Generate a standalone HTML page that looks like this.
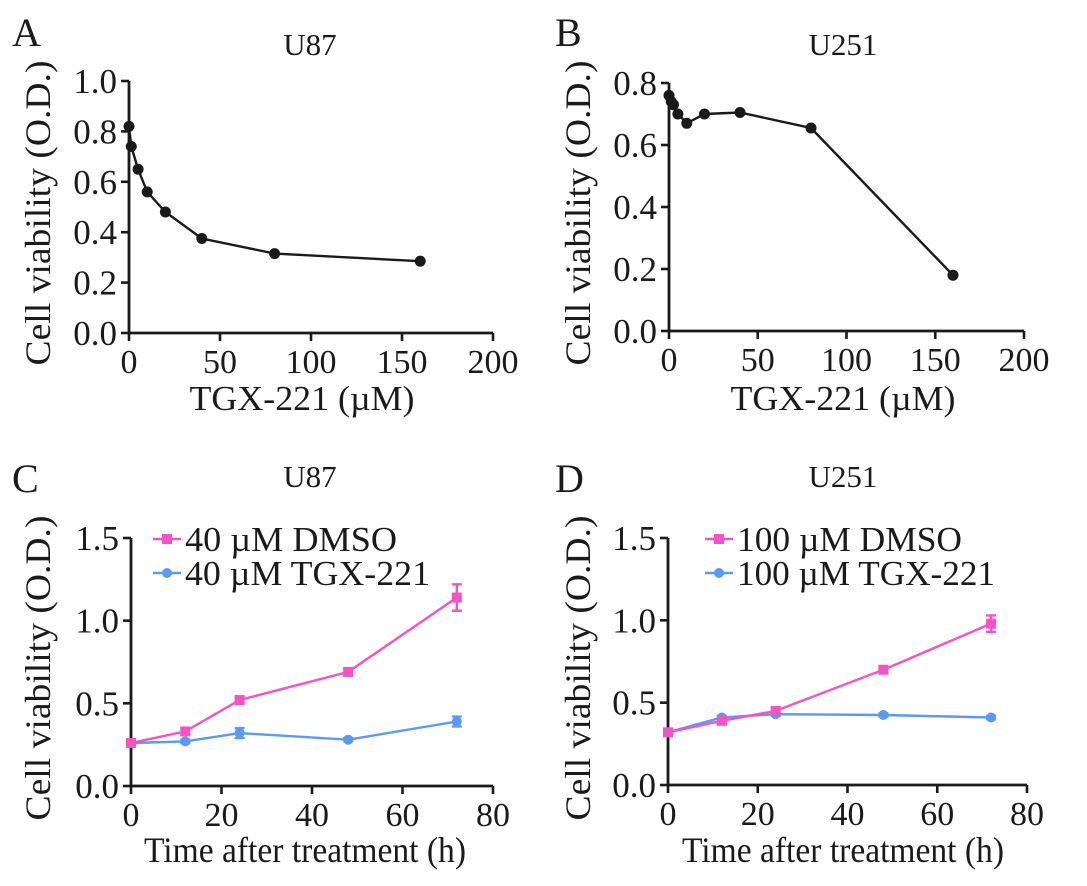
<!DOCTYPE html>
<html><head><meta charset="utf-8"><style>
body{margin:0;background:#fff}
svg text{font-family:"Liberation Serif",serif;fill:#1a1a1a}
</style></head><body>
<svg id="fig" width="1087" height="881" viewBox="0 0 1087 881" xmlns="http://www.w3.org/2000/svg"></svg>
<script>
// Panel A data
const aDose = [0, 1.25, 5, 10, 20, 40, 80, 160];
const aVal = [0.82, 0.74, 0.65, 0.56, 0.48, 0.375, 0.315, 0.285];
// Panel B data
const bDose = [0, 1.25, 2.5, 5, 10, 20, 40, 80, 160];
const bVal = [0.76, 0.74, 0.73, 0.70, 0.67, 0.70, 0.705, 0.655, 0.18];
// Panel C data
const cTime = [0, 12, 24, 48, 72];
const cDmso = [0.26, 0.33, 0.52, 0.69, 1.14];
const cDmsoErr = [0.01, 0.02, 0.02, 0.02, 0.08];
const cTgx = [0.26, 0.27, 0.32, 0.28, 0.39];
const cTgxErr = [0.01, 0.01, 0.03, 0.01, 0.03];
// Panel D data
const dTime = [0, 12, 24, 48, 72];
const dDmso = [0.32, 0.39, 0.45, 0.70, 0.98];
const dDmsoErr = [0.01, 0.02, 0.02, 0.02, 0.05];
const dTgx = [0.32, 0.41, 0.43, 0.425, 0.41];
const dTgxErr = [0.01, 0.01, 0.01, 0.01, 0.01];
// Tick labels
const abXTicks = [0, 50, 100, 150, 200];
const aYTicks = ["0.0", "0.2", "0.4", "0.6", "0.8", "1.0"];
const bYTicks = ["0.0", "0.2", "0.4", "0.6", "0.8"];
const cdXTicks = [0, 20, 40, 60, 80];
const cdYTicks = ["0.0", "0.5", "1.0", "1.5"];

const NS = "http://www.w3.org/2000/svg";
const svg = document.getElementById("fig");
function mk(tag, attrs, parent, text) {
  const e = document.createElementNS(NS, tag);
  for (const k in attrs) e.setAttribute(k, attrs[k]);
  if (text !== undefined) e.textContent = text;
  (parent || svg).appendChild(e);
  return e;
}
const PINK = "#f552c6", BLUE = "#5a9af5";

function panel(o) {
  const g = mk("g", {});
  
  
  const sx = v => o.x0 + (v - o.xmin) / (o.xmax - o.xmin) * (o.x1 - o.x0);
  const sy = v => o.y0 - (v - o.ymin) / (o.ymax - o.ymin) * (o.y0 - o.y1);
  const lt = mk("text", {x: o.lx, y: o.ly, "font-size": 40}, g, o.letter);
  
  
  const tt = mk("text", {x: o.tx, y: o.ty, "font-size": 31, "text-anchor": "middle"}, g, o.title);
  
  
  const ax = mk("path", {d: `M${o.x0},${o.y1} V${o.y0} H${o.x1}`, stroke: "#1a1a1a", "stroke-width": 2.8, fill: "none"}, g);
  
  
  o.xticks.forEach(t => {
    const x = sx(t);
    mk("line", {x1: x, x2: x, y1: o.y0, y2: o.y0 + 8, stroke: "#1a1a1a", "stroke-width": 2.6}, g);
    const l = mk("text", {x: x, y: o.y0 + 40, "font-size": 34, "text-anchor": "middle"}, g, String(t));
    
    
  });
  o.yticks.forEach(t => {
    const y = sy(parseFloat(t));
    mk("line", {x1: o.x0 - 8, x2: o.x0, y1: y, y2: y, stroke: "#1a1a1a", "stroke-width": 2.6}, g);
    const l = mk("text", {x: o.x0 - 12, y: y + 12, "font-size": 35, "text-anchor": "end"}, g, t);
    
    
  });
  const xt = mk("text", {x: o.xtx, y: o.xty, "font-size": o.xtfs, "text-anchor": "middle", textLength: o.xtlen, lengthAdjust: "spacingAndGlyphs", "font-weight": o.xtbold ? "bold" : "normal"}, g, o.xtitle);
  
  
  const yc = o.ytc;
  const yt = mk("text", {x: 0, y: 0, "font-size": 36, "text-anchor": "middle", textLength: 305, lengthAdjust: "spacingAndGlyphs", transform: `translate(${o.ytx},${yc}) rotate(-90)`}, g, "Cell viability (O.D.)");
  
  
  o.series.forEach(s => {
    const sg = mk("g", {}, g);
    
    
    const pts = s.xs.map((x, i) => sx(x).toFixed(1) + "," + sy(s.ys[i]).toFixed(1)).join(" ");
    const pl = mk("polyline", {points: pts, fill: "none", stroke: s.color, "stroke-width": 2.4}, sg);
    
    
    s.xs.forEach((x, i) => {
      const cx = sx(x), cy = sy(s.ys[i]);
      if (s.err) {
        const e = s.err[i], ya = sy(s.ys[i] + e), yb = sy(s.ys[i] - e);
        mk("path", {d: `M${cx},${ya} V${yb} M${cx-5},${ya} H${cx+5} M${cx-5},${yb} H${cx+5}`, stroke: s.color, "stroke-width": 2.4, fill: "none"}, sg);
      }
      let m;
      if (s.marker === "square") m = mk("rect", {x: cx - 5, y: cy - 5, width: 10, height: 10, fill: s.color}, sg);
      else m = mk("circle", {cx: cx, cy: cy, r: s.r || 5.5, fill: s.color}, sg);
      
      
    });
  });
  if (o.legend) {
    o.legend.forEach((L, i) => {
      const lg = mk("g", {}, g);
      
      
      const y = L.y;
      mk("line", {x1: L.x, x2: L.x + 28, y1: y, y2: y, stroke: L.color, "stroke-width": 2.4}, lg);
      if (L.marker === "square") mk("rect", {x: L.x + 9, y: y - 5, width: 10, height: 10, fill: L.color}, lg);
      else mk("circle", {cx: L.x + 14, cy: y, r: 5, fill: L.color}, lg);
      mk("text", {x: L.x + 32, y: y + 12, "font-size": 35, textLength: L.len, lengthAdjust: "spacingAndGlyphs"}, lg, L.text);
    });
  }
}

panel({name: "panel-a", letter: "A", lx: 12, ly: 46, title: "U87", tx: 310, ty: 55,
  x0: 129, x1: 493, y0: 333, y1: 81, xmin: 0, xmax: 200, ymin: 0, ymax: 1.0,
  xticks: abXTicks, yticks: aYTicks, xtitle: "TGX-221 (µM)", xtx: 302, xty: 410, xtfs: 35, xtlen: 225,
  ytx: 50, ytc: 213, series: [{name: "series-u87", xs: aDose, ys: aVal, color: "#1a1a1a", marker: "circle"}]});

panel({name: "panel-b", letter: "B", lx: 555, ly: 46, title: "U251", tx: 843, ty: 55,
  x0: 669, x1: 1024, y0: 331, y1: 83, xmin: 0, xmax: 200, ymin: 0, ymax: 0.8,
  xticks: abXTicks, yticks: bYTicks, xtitle: "TGX-221 (µM)", xtx: 843, xty: 410, xtfs: 35, xtlen: 225,
  ytx: 590, ytc: 213, series: [{name: "series-u251", xs: bDose, ys: bVal, color: "#1a1a1a", marker: "circle"}]});

panel({name: "panel-c", letter: "C", lx: 12, ly: 492, title: "U87", tx: 310, ty: 487,
  x0: 131, x1: 493, y0: 786, y1: 538, xmin: 0, xmax: 80, ymin: 0, ymax: 1.5,
  xticks: cdXTicks, yticks: cdYTicks, xtitle: "Time after treatment (h)", xtx: 305, xty: 862, xtfs: 36, xtlen: 322, xtbold: false,
  ytx: 50, ytc: 668,
  series: [
    {name: "series-tgx", xs: cTime, ys: cTgx, err: cTgxErr, color: BLUE, marker: "circle", r: 5},
    {name: "series-dmso", xs: cTime, ys: cDmso, err: cDmsoErr, color: PINK, marker: "square"}],
  legend: [{x: 153, y: 539, color: PINK, marker: "square", text: "40 µM DMSO", len: 212},
           {x: 153, y: 573, color: BLUE, marker: "circle", text: "40 µM TGX-221", len: 245}]});

panel({name: "panel-d", letter: "D", lx: 555, ly: 492, title: "U251", tx: 843, ty: 487,
  x0: 668, x1: 1027, y0: 785, y1: 538, xmin: 0, xmax: 80, ymin: 0, ymax: 1.5,
  xticks: cdXTicks, yticks: cdYTicks, xtitle: "Time after treatment (h)", xtx: 843, xty: 862, xtfs: 36, xtlen: 322, xtbold: false,
  ytx: 590, ytc: 668,
  series: [
    {name: "series-tgx", xs: dTime, ys: dTgx, err: dTgxErr, color: BLUE, marker: "circle", r: 5},
    {name: "series-dmso", xs: dTime, ys: dDmso, err: dDmsoErr, color: PINK, marker: "square"}],
  legend: [{x: 705, y: 539, color: PINK, marker: "square", text: "100 µM DMSO", len: 225},
           {x: 705, y: 573, color: BLUE, marker: "circle", text: "100 µM TGX-221", len: 258}]});
</script>
</body></html>
